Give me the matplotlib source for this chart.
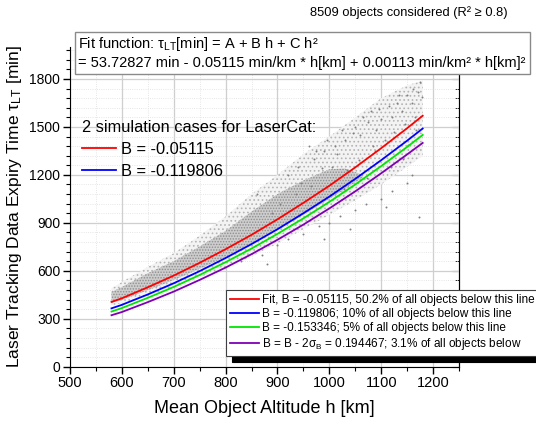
import matplotlib
matplotlib.use("Agg")
import matplotlib.pyplot as plt
from matplotlib.patches import Rectangle
from matplotlib.ticker import MultipleLocator

plt.rcParams['font.family'] = ['Liberation Sans', 'DejaVu Sans']
plt.rcParams['mathtext.fontset'] = 'custom'
plt.rcParams['mathtext.rm'] = 'Liberation Sans'
plt.rcParams['mathtext.it'] = 'Liberation Sans:italic'
plt.rcParams['hatch.linewidth'] = 0.7

# altitude grid for the curves (km)
alt = [580, 600, 650, 700, 750, 800, 850, 900, 950, 1000, 1050, 1100, 1150, 1180]
# expiry time curves (min)
fit_red = [405, 428, 497, 570, 650, 735, 825, 922, 1025, 1132, 1247, 1367, 1492, 1570]
b10_blue = [365, 387, 452, 522, 598, 680, 767, 860, 960, 1064, 1175, 1292, 1414, 1490]
b5_green = [345, 367, 431, 499, 574, 654, 739, 831, 928, 1031, 1140, 1255, 1375, 1450]
b2s_purple = [322, 342, 404, 470, 543, 620, 704, 794, 889, 990, 1097, 1210, 1328, 1400]

# object cloud: dense core (fades out near 1060 km) and sparse outer envelope (min)
core_alt = [580, 600, 650, 700, 750, 800, 850, 900, 950, 1000, 1030, 1065]
core_lo = [400, 418, 478, 542, 612, 686, 770, 855, 950, 1050, 1110, 1185]
core_hi = [468, 498, 585, 660, 752, 850, 970, 1080, 1165, 1235, 1240, 1200]
outer_lo = [385, 395, 440, 500, 560, 620, 690, 770, 860, 950, 1040, 1140, 1250, 1320]
outer_hi = [490, 530, 625, 710, 820, 940, 1080, 1200, 1330, 1440, 1560, 1680, 1760, 1790]

# individual objects (sparse regions)
out_h = [1175, 1170, 1160, 1150, 1140, 1120, 1130, 1100, 1090, 1080, 1060, 1050, 1030, 1010,
         990, 970, 960, 940, 920, 870, 900, 950, 1000, 1050, 1100, 1150, 830, 880, 920, 980,
         1020, 1070, 1120, 1160, 1173, 990, 1110, 1040, 860, 1165, 1125, 1085, 1005, 945,
         1178, 1162, 1145, 1135, 1115, 1095, 1075, 1065, 1045, 1025, 1015, 995, 985, 975,
         1168, 1152, 1108, 1088, 1058, 1035, 965, 935, 905, 890, 1142, 1118, 1072, 1028]
out_v = [1780, 1720, 1650, 1700, 1600, 1560, 1650, 1550, 1480, 1600, 1450, 1500, 1420, 1380,
         1350, 1300, 1380, 1250, 1200, 700, 760, 830, 900, 980, 1050, 1150, 660, 640, 800, 880,
         940, 1020, 1100, 1200, 936, 800, 1000, 860, 1080, 1560, 1470, 1380, 1250, 1150,
         1690, 1740, 1520, 1700, 1630, 1610, 1530, 1560, 1460, 1480, 1330, 1420, 1240, 1350,
         1480, 1390, 1420, 1350, 1290, 1230, 1130, 1080, 1020, 960, 1300, 1250, 1180, 1110]

n_objects = 8509

fig = plt.figure(figsize=(5.36, 4.21), dpi=100)
W, H = 536, 421
fx = lambda px: px / W
fy = lambda py: 1 - py / H

ax = fig.add_axes([fx(70), fy(366.7), fx(459) - fx(70), fy(47) - fy(366.7)])
ax.set_xlim(500, 1250)
ax.set_ylim(0, 2000)

ax.fill_between(alt, outer_lo, outer_hi, facecolor='#f3f3f3', edgecolor='#b4b4b4',
                hatch='....', lw=0, zorder=1)
ax.fill_between(core_alt, core_lo, core_hi, facecolor='#cdcdcd', edgecolor='#8e8e8e',
                hatch='......', lw=0, zorder=1)
ax.scatter(out_h, out_v, s=2, color='#808080', lw=0, zorder=1)

l_red, = ax.plot(alt, fit_red, color='#ff0000', lw=1.3, zorder=3)
l_blue, = ax.plot(alt, b10_blue, color='#0000ff', lw=1.3, zorder=3)
l_green, = ax.plot(alt, b5_green, color='#00e600', lw=1.3, zorder=3)
l_purp, = ax.plot(alt, b2s_purple, color='#7f00b4', lw=1.3, zorder=3)

ax.xaxis.set_major_locator(MultipleLocator(100))
ax.xaxis.set_minor_locator(MultipleLocator(50))
ax.yaxis.set_major_locator(MultipleLocator(300))
ax.yaxis.set_minor_locator(MultipleLocator(60))
ax.grid(which='major', color='#cfcfcf', lw=0.9, zorder=0)
ax.grid(which='minor', color='#dedede', lw=0.6, ls=':', zorder=0)
ax.set_axisbelow(True)
ax.spines['top'].set_visible(False)
ax.tick_params(which='major', direction='out', length=5, width=1, labelsize=10, pad=2)
ax.tick_params(which='minor', direction='out', length=3, width=0.8)
ax.tick_params(axis='x', labelsize=10.5)
ax.tick_params(right=False, which='both')

sec = ax.secondary_yaxis('right')
sec.yaxis.set_major_locator(MultipleLocator(300))
sec.yaxis.set_minor_locator(MultipleLocator(60))
sec.tick_params(which='major', direction='in', length=5, labelright=False)
sec.tick_params(which='minor', direction='in', length=3)

ax.set_xlabel('Mean Object Altitude h [km]', fontsize=13, labelpad=7)
ax.set_ylabel(r'Laser Tracking Data Expiry Time τ$_{\mathrm{LT}}$ [min]', fontsize=12.5, labelpad=4)

# upper legend: simulation cases
leg1 = ax.legend([l_red, l_blue], ['B = -0.05115', 'B = -0.119806'],
                 title='2 simulation cases for LaserCat:', title_fontsize=11.8, fontsize=11.8,
                 loc='upper left', bbox_to_anchor=(fx(82), fy(120)), bbox_transform=fig.transFigure,
                 frameon=False, borderpad=0, borderaxespad=0, handlelength=2.1,
                 handletextpad=0.3, labelspacing=0.42, alignment='left')
ax.add_artist(leg1)

# lower legend with black shadow
leg2 = ax.legend([l_red, l_blue, l_green, l_purp],
                 ['Fit, B = -0.05115, 50.2% of all objects below this line',
                  'B = -0.119806; 10% of all objects below this line',
                  'B = -0.153346; 5% of all objects below this line',
                  r'B = B - 2σ$_{\mathrm{B}}$ = 0.194467; 3.1% of all objects below'],
                 fontsize=8.5, loc='upper left', bbox_to_anchor=(fx(226), fy(290)),
                 bbox_transform=fig.transFigure, borderpad=0.35, borderaxespad=0,
                 handlelength=2.45, handletextpad=0.25, labelspacing=0.17, fancybox=False,
                 framealpha=1, edgecolor='#404040',
                 shadow={'ox': 4, 'oy': -4, 'color': 'black', 'alpha': 1})
leg2.get_frame().set_linewidth(0.8)

# fit function box
fig.add_artist(Rectangle((fx(75), fy(74)), fx(530) - fx(75), fy(32) - fy(74),
                         transform=fig.transFigure, facecolor='white', edgecolor='#8a8a8a',
                         lw=1, zorder=10))
fig.text(fx(78), fy(44), r'Fit function: τ$_{\mathrm{LT}}$[min] = A + B h + C h²',
         fontsize=10.5, va='center', ha='left', zorder=11)
fig.text(fx(78), fy(63), '= 53.72827 min - 0.05115 min/km * h[km] + 0.00113 min/km² * h[km]²',
         fontsize=10.5, va='center', ha='left', zorder=11)

fig.text(fx(508), fy(13), f'{n_objects} objects considered (R² ≥ 0.8)',
         fontsize=9.3, va='center', ha='right')

fig.savefig('out.png', dpi=100)
